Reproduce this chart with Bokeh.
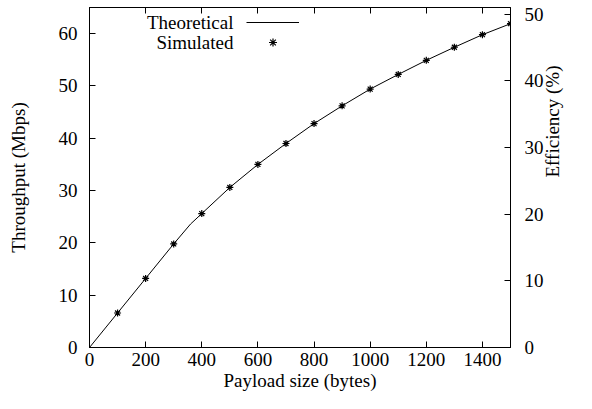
import math
from bokeh.plotting import figure
from bokeh.models import (Range1d, LinearAxis, FixedTicker, Label, Legend, LegendItem)
from bokeh.embed import file_html
from bokeh.resources import INLINE

# Data
payload_sim = [100, 200, 300, 400, 500, 600, 700, 800, 900, 1000, 1100, 1200, 1300, 1400, 1500]
throughput_sim = [6.6, 13.2, 19.8, 25.6, 30.6, 35.0, 39.0, 42.8, 46.2, 49.4, 52.2, 54.9, 57.4, 59.8, 61.9]
payload_theo = [0, 100, 200, 300, 360, 400, 500, 600, 700, 800, 900, 1000, 1100, 1200, 1300, 1400, 1500]
throughput_theo = [0, 6.6, 13.2, 19.8, 23.6, 25.6, 30.6, 35.0, 39.0, 42.8, 46.2, 49.4, 52.2, 54.9, 57.4, 59.8, 61.9]
x_ticks = [0, 200, 400, 600, 800, 1000, 1200, 1400]
y_ticks = [0, 10, 20, 30, 40, 50, 60]
eff_ticks = [0, 10, 20, 30, 40, 50]

FONT = "Liberation Serif"
FS = "19px"

p = figure(width=576, height=393, output_backend="svg", toolbar_location=None,
           x_range=Range1d(0, 1500), y_range=Range1d(0, 65),
           min_border_left=89, min_border_right=64, min_border_top=7, min_border_bottom=46)
p.grid.visible = False
p.outline_line_color = "black"
p.outline_line_width = 1
p.background_fill_color = "white"
p.border_fill_color = "white"
p.extra_y_ranges = {"eff": Range1d(0, 51)}

def style(ax):
    ax.major_tick_in = 6
    ax.major_tick_out = 0
    ax.minor_tick_line_color = None
    ax.axis_line_color = "black"
    ax.major_tick_line_color = "black"
    ax.major_label_text_font = FONT
    ax.major_label_text_font_size = FS
    ax.major_label_text_color = "black"
    ax.axis_label_text_font = FONT
    ax.axis_label_text_font_size = FS
    ax.axis_label_text_font_style = "normal"
    ax.axis_label_text_color = "black"

xa = p.xaxis[0]
xa.ticker = FixedTicker(ticks=x_ticks)
xa.axis_label = "Payload size (bytes)"
style(xa)
xa.major_label_standoff = 5
xa.axis_label_standoff = 1

ya = p.yaxis[0]
ya.ticker = FixedTicker(ticks=y_ticks)
ya.axis_label = "Throughput (Mbps)"
style(ya)
ya.major_label_standoff = 12
ya.axis_label_standoff = 27

ra = LinearAxis(y_range_name="eff", ticker=FixedTicker(ticks=eff_ticks), axis_label="Efficiency (%)")
style(ra)
ra.major_label_standoff = 14
ra.axis_label_standoff = 6
ra.axis_label_orientation = math.pi / 2
p.add_layout(ra, "right")

ta = LinearAxis(ticker=FixedTicker(ticks=x_ticks))
style(ta)
ta.major_label_overrides = {t: "" for t in x_ticks}
ta.major_label_standoff = 0
p.add_layout(ta, "above")

r_line = p.line(payload_theo, throughput_theo, line_color="black", line_width=1)
r_pts = p.scatter(payload_sim, throughput_sim, marker="asterisk", size=7,
                  line_color="black", line_width=1.2)

legend = Legend(items=[LegendItem(label="", renderers=[r_line]),
                       LegendItem(label="", renderers=[r_pts])],
                location=(157, 295), orientation="vertical",
                glyph_width=53, glyph_height=20, label_width=0, label_height=20,
                label_standoff=0, spacing=0, padding=0, margin=0,
                border_line_color=None, background_fill_alpha=0)
p.add_layout(legend, "center")

for txt, yy in [("Theoretical", 325), ("Simulated", 305)]:
    p.add_layout(Label(x=144, y=yy, x_units="screen", y_units="screen", text=txt,
                       text_align="right", text_baseline="middle",
                       text_font=FONT, text_font_size=FS, text_color="black"))

open("out.html", "w").write(file_html(p, INLINE))
